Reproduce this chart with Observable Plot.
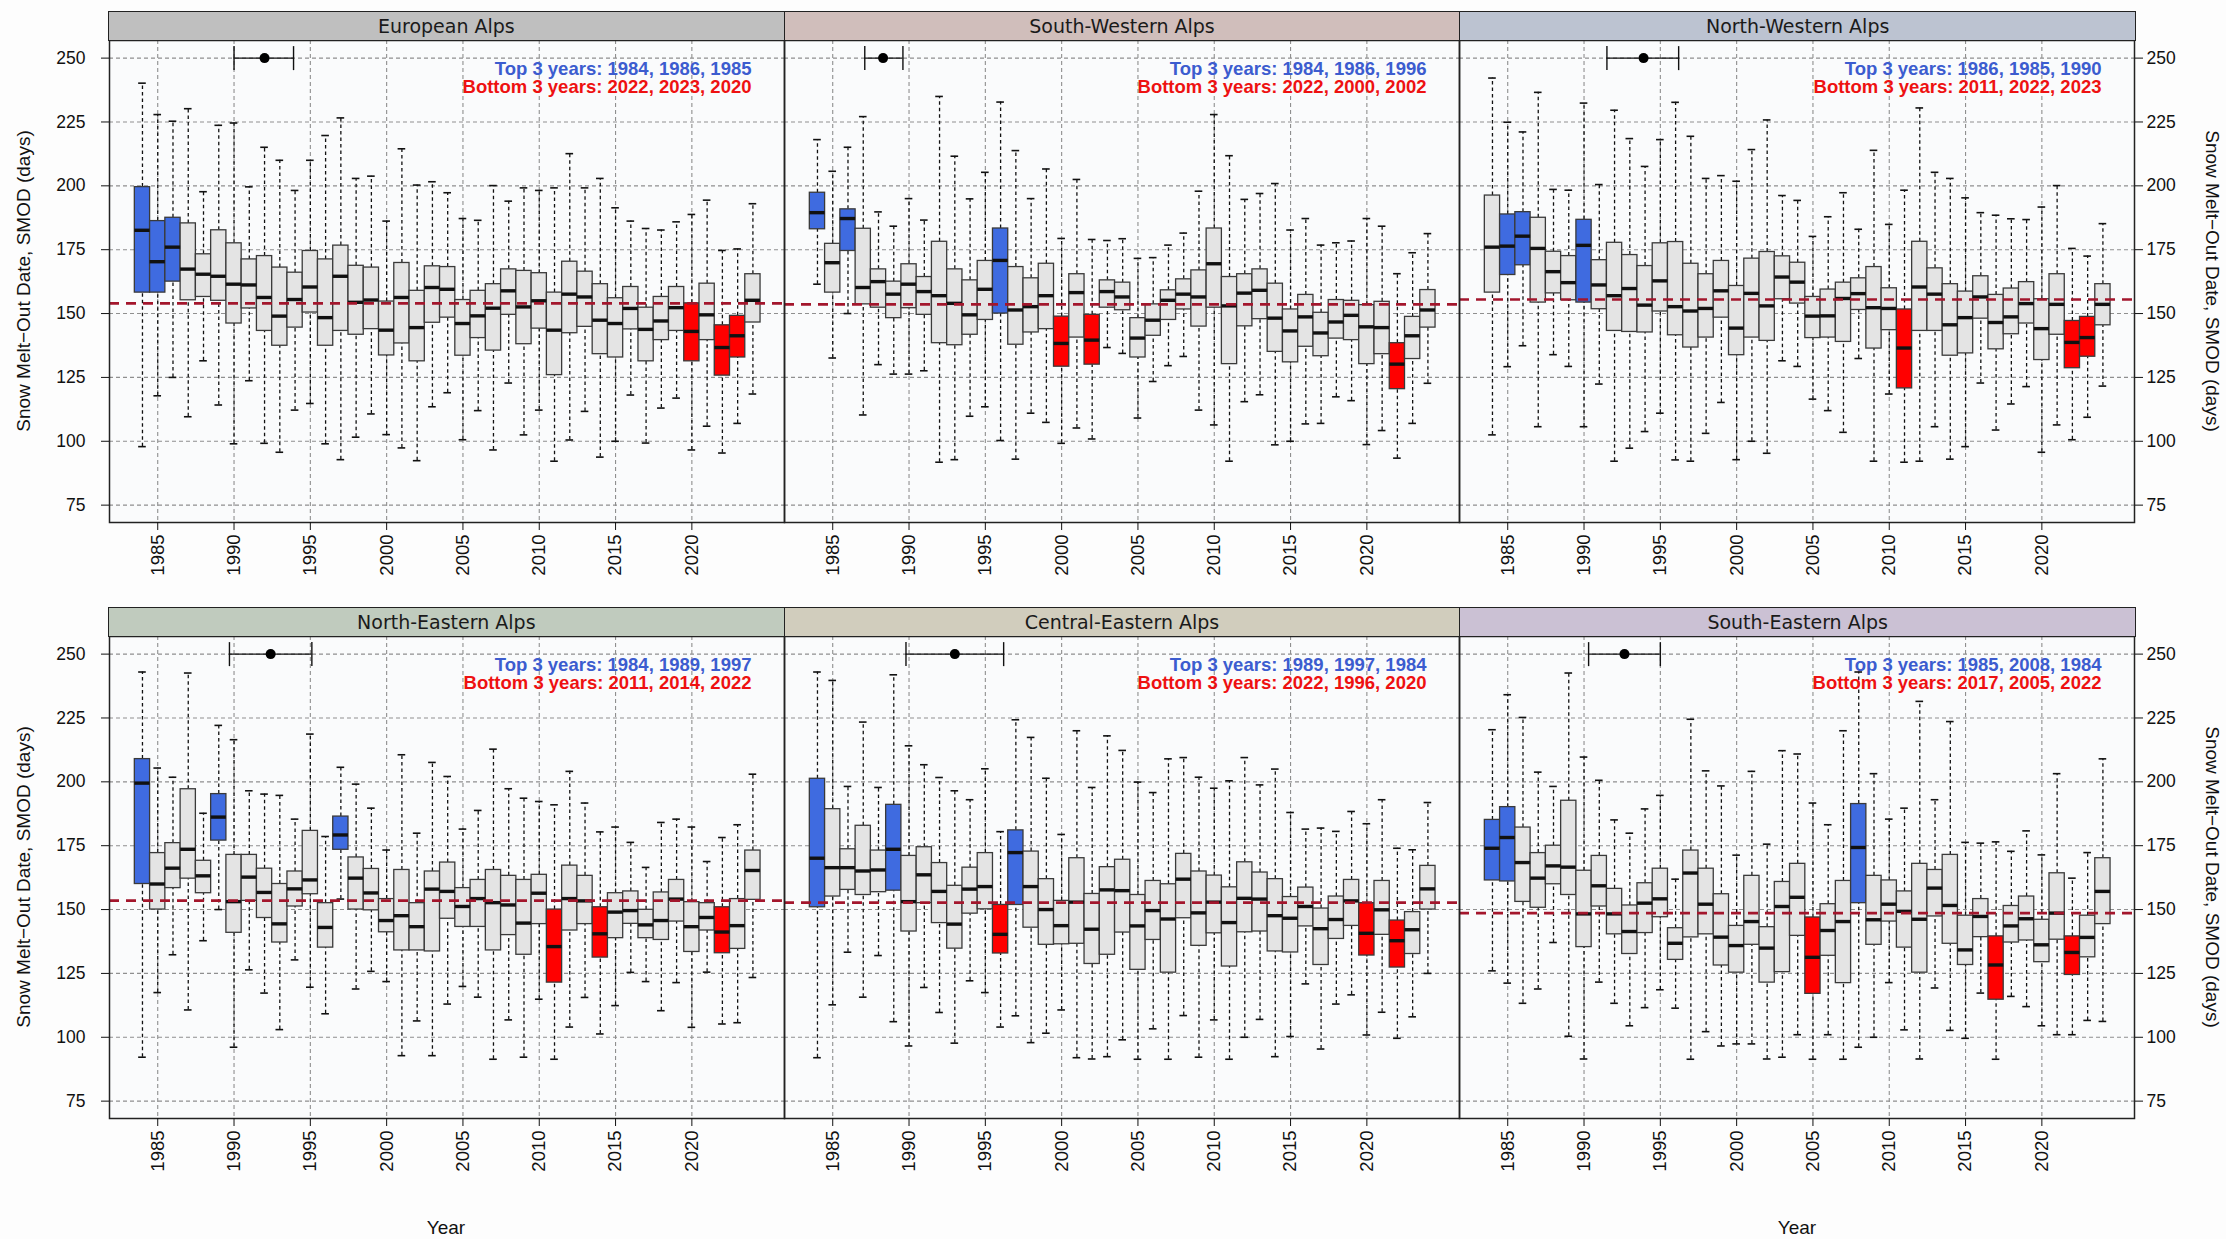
<!DOCTYPE html>
<html>
<head>
<meta charset="utf-8">
<script src="https://cdn.jsdelivr.net/npm/d3@7"></script>
<script src="https://cdn.jsdelivr.net/npm/@observablehq/plot@0.6"></script>
<style>
  body { margin: 0; background: #ffffff; }
  #wrap { position: relative; width: 2226px; height: 1239px; overflow: hidden; font-family: "Liberation Sans", Arial, sans-serif; background: #fdfdfd; }
  .chart { position: absolute; left: 0; }
  .strip { position: absolute; box-sizing: border-box; border: 1.5px solid #222; display: flex; align-items: center; justify-content: center; font-family: "DejaVu Sans", sans-serif; font-size: 19px; color: #1a1a1a; }
  .ylab { position: absolute; font-size: 19px; color: #111; writing-mode: vertical-rl; white-space: nowrap; }
  .xlab { position: absolute; font-size: 19px; color: #111; transform: translate(-50%, -50%); white-space: nowrap; }
</style>
</head>
<body>
<div id="wrap"></div>
<script>
// ---------------- DATA ----------------
const years = [1984,1985,1986,1987,1988,1989,1990,1991,1992,1993,1994,1995,1996,1997,1998,1999,2000,2001,2002,2003,2004,
               2005,2006,2007,2008,2009,2010,2011,2012,2013,2014,2015,2016,2017,2018,2019,2020,2021,2022,2023,2024];
const regions = ["European Alps","South-Western Alps","North-Western Alps","North-Eastern Alps","Central-Eastern Alps","South-Eastern Alps"];
const xTicks = [1985,1990,1995,2000,2005,2010,2015,2020];
const yTicks = [75,100,125,150,175,200,225,250];

// European Alps
const euMin = [97.9,117.8,125,109.6,131.5,114.2,99.0,123.7,99.2,95.7,112.2,114.8,99.0,92.8,101.6,110.7,102.6,97.4,92.4,113.5,119.0,100.6,112.0,96.6,122.8,102.5,112.2,92.2,100.5,111.7,93.8,100.0,118.1,99.3,113.0,116.9,96.6,105.9,95.4,107.0,118.5];
const euQ1  = [158.2,158.2,162.5,155.2,156.5,155,146.1,152.0,143.2,137.4,144.5,150.4,137.4,143.2,141.7,143.9,133.6,138.3,131.3,146.4,148.4,133.5,140.4,135.5,149.5,138,144.1,125.9,142.3,144.8,134.1,132.8,143.8,131.3,139.6,143.2,131.3,139.6,125.7,132.8,146.5];
const euMed = [182.6,170.3,176.0,167.4,165.4,164.6,161.5,161.2,156.3,149,155.5,160.4,148.4,164.6,154.4,155.3,143.5,156.3,144.5,160.2,159.5,146.1,149.1,152.1,158.9,152.6,155,143.5,157.6,156.5,147.4,146.1,152,143.8,147.1,152.3,143,149.5,136.7,141.3,155.2];
const euQ3  = [199.5,186.2,187.5,185.3,173.2,182.6,177.5,171.2,172.5,168,166,174.5,171.2,176.6,168.7,168,154.7,169.8,158.9,168.5,168.2,155.3,158.9,161.5,167.3,166.7,165.8,158.2,170.3,166.4,161.5,156,160.4,152.3,156.5,160.4,154,161.7,145.4,149.1,165.4];
const euMax = [240.2,227.9,225.3,230.2,197.7,223.7,224.6,199.6,215.1,210,198.2,210,219.7,226.6,202.9,203.8,186.2,214.5,200.3,201.6,197.3,187.2,186.5,200.1,194,199.2,198.2,199.2,212.6,199.2,202.9,191.4,186.2,183.3,182.7,185.9,188.8,194.4,174.7,175.3,193];

// South-Western Alps
const swMin = [161.5,132.6,150,110.3,130,126.3,126.3,127.6,91.8,92.8,109.8,113.5,100.3,93,111,107.4,99.2,105.2,100.9,136.7,134.4,109.1,123.4,129.6,133.2,112.2,106.4,92.2,115.5,118.2,98.6,100,106.8,107,117.4,115.9,98.7,104.2,93.4,107,122.7];
const swQ1  = [183,158.2,174.5,153.6,152.3,148.2,152.1,149.5,138.4,137.6,141.7,147.5,150,137.8,142.6,143.9,129.2,140.6,130,152.3,151.3,132.8,141.3,147.5,151.6,144.9,152.3,130.2,145,147.8,135,130.9,137,133.3,140.2,139.6,130.2,134.1,120.4,132.2,144.5];
const swMed = [189.5,169.9,187.2,160.2,162.5,157.6,161.5,158.6,157,154,149.5,159.5,170.8,151.4,152.7,157,138.3,158.2,139.6,158.6,156.5,140.4,147.4,155.2,157.6,156.5,169.5,153,158,159.1,148.2,143.2,148.7,142.4,146.7,149.3,144.8,144.5,130.2,141.3,151.4];
const swQ3  = [197.3,177.3,190.8,183.2,167.3,162.5,169.3,164.3,178.1,167.3,163,170.6,183.3,168.2,163.8,169.5,148.8,165.4,149.5,163,162.1,148.2,153.6,159.1,163.4,166.9,183.3,164.3,165.4,167.3,161.7,151.6,157.3,150.3,155.3,155,153.3,154.6,138.4,148.7,159.2];
const swMax = [218.1,205.7,215.1,227.1,189.8,184.2,195,186.6,235,211.6,194.9,205.3,232.8,213.8,195,206.6,179.4,202.5,179,178.6,179.3,171.6,171.9,176.8,181.5,197.9,227.9,211.8,194.7,197,200.9,182.7,187.2,176.8,177.7,178.4,187.2,184.2,165.6,173.8,181.3];

// North-Western Alps
const nwMin = [102.5,129.2,137.4,105.7,133.9,129.3,105.7,122.4,92.2,97.3,103.8,111,92.7,92.2,103.1,115.2,92.8,100,95.3,131.5,129.3,116.5,112,103.5,132.4,92.2,118.5,91.8,92.2,105.7,93,97.9,122.8,104.4,114.6,121.4,95.7,106.4,100.6,109.4,121.6];
const nwQ1  = [158.2,165.1,168.9,154.3,157.9,155.2,154.3,151.7,143.2,142.8,142.6,150.8,141.5,136.7,140.6,148.4,133.7,140.6,139.3,155.6,153.9,140.4,140.6,138.9,151.4,136.3,143.5,120.7,143.2,143.2,133.5,134.4,148,136,141.9,146.1,131.8,141.7,128.6,133.1,145.4];
const nwMed = [176,176.4,180.3,175.5,166.4,162.1,176.7,161.2,157,159.8,153.3,162.8,152.7,151,152,158.9,144.3,157.9,153,164.3,162.3,149,149.1,155.9,157.8,152.3,152,136.5,160.4,157.6,145.6,148.4,156.5,146.5,148.7,153.9,144.1,153.6,138.7,140.6,153.6];
const nwQ3  = [196.2,188.8,189.7,187.5,174.2,172.5,186.7,170.9,177.7,172.9,168.6,177.5,178,169.5,165.4,170.6,160.8,171.5,174.1,172.4,169.9,156.5,159.4,162.1,163.8,168.2,159.9,151.6,178.1,167.7,161.5,158.6,164.6,157.3,159.8,162.3,155.6,165.4,147.1,148.7,161.5];
const nwMax = [242.2,224.9,221.1,236.6,198.6,198.3,232.4,200.5,229.6,218.5,207.6,218.1,232.7,219.4,202.9,204,201.8,214.2,225.8,196.2,194.3,180.2,187.9,197.3,183,213.9,184.9,198.3,230.5,205.3,202.9,195.3,189.5,188.5,187.1,186.8,191.7,200.1,175.5,172.5,185.2];

// North-Eastern Alps
const neMin = [92.2,117.5,132.3,110.7,137.8,150,96.1,126.4,117.3,103,130.3,119.6,109.2,154.1,118.9,125.8,121.8,92.8,106.4,92.8,113,119.9,115.7,91.4,106.8,92.2,114.9,91.4,104,115.6,101.3,112.4,125.4,121.8,110.4,121.4,103.9,125.5,105.2,105.7,123.4];
const neQ1  = [160,150,158.4,162.1,156.4,177,140.9,153.4,146.7,137.1,151.2,156,135.1,173.4,150,149.7,141.1,134,134,133.6,146.4,143.2,143.2,134,140,132.3,144.3,121.4,141.8,144.3,131.2,138.8,144.4,138.8,138.1,145.3,133.4,141.8,132.9,134.6,153.8];
const neMed = [199.5,160,166.2,173.6,163.2,186.2,153.1,162.7,156.7,144.4,158.1,161.6,143,179.2,162.3,156.5,145.7,147.6,143.3,158,157.1,151.2,154.3,152.7,151.8,144.7,156.4,135.5,154.3,153.4,140.5,149,149.6,144,145.7,154.1,143.3,146.9,141.2,143.7,165.3];
const neQ3  = [208.9,172.1,176,197.1,169.1,195.2,171.4,171.4,166,160,164.9,180.8,152.5,186.4,170.4,165.9,154.1,165.5,152.5,164.9,168.4,158.4,161.6,165.5,163.2,161.6,163.6,150,167.2,163.2,150.9,156.4,157.1,149.9,156.7,161.6,152.9,152.5,150.9,154.1,173.1];
const neMax = [243,205.4,201.8,242.6,187.7,222.1,216.5,196.5,195.2,194.7,185.4,218.7,178.6,205.7,199.1,189.7,173.3,210.6,179.9,207.6,202.1,181.5,188.8,212.8,197.3,193.6,192.3,191,204.1,191.7,180.4,182.3,176.3,166.5,184.1,185.4,182.3,168.8,178.2,183.2,203];

// Central-Eastern Alps
const ceMin = [92,112.7,133.3,115.7,132,106.1,96.6,119.5,109.7,97.7,122.1,117.5,104,108.4,97.9,101.6,110.7,92,91.5,92.4,99,91.4,103.3,91.4,108.5,92.2,106.8,91.4,100,107,92.4,100.3,120.9,95.4,113,116.6,100.9,109.8,99.6,108,125];
const ceQ1  = [150.9,155.1,157.7,155.7,156.8,157.4,141.4,152.5,144.7,134.7,148.4,150.1,132.8,151.8,142.9,136.2,136.4,136.6,128.7,132.3,141,126.4,138.1,125.3,146.6,135.8,140.7,127.7,141.1,141.4,133.6,133.2,143.4,128.3,138.5,143.6,132,140.1,127.3,132.6,150];
const ceMed = [170.1,166.4,166.4,165.1,165.5,173.6,153.1,163.6,157.1,144.3,158,159,140.3,172.3,159,150,143.7,152.9,142.3,157.7,157.4,143.6,149.6,146.3,161.9,148.7,152.9,144.9,154.4,154.1,147.6,146.6,151.2,142.5,146.1,153.4,140.7,149.9,137.8,142.1,158.1];
const ceQ3  = [201.2,189.3,173.6,182.8,173.1,191,171,174.4,168.2,159.3,166.4,172.1,151.8,181,172.7,161.9,153.4,170.1,156.1,166.6,169.5,155.7,161.2,159.9,171.8,164.9,163.3,158.7,168.5,164.5,161.9,154.9,158.6,150.4,155.1,161.6,152.5,161.2,145.7,149,167.1];
const ceMax = [243,239.7,198.2,223.4,197.8,241.9,214.1,206.7,201.7,196.5,193,205.1,180.5,224.3,217.4,201.4,179.4,220,197.8,218,212.3,199.9,195.8,209,209.5,201.8,197.5,200.4,209.5,198.8,205,188,181.5,181.9,180.6,188.4,183.6,193,174,173.4,191.9];

// South-Eastern Alps
const seMin = [126,121.2,113.3,118.9,137.1,100.4,91.5,121.6,113.3,104.5,111.6,118.6,111.4,91.4,102.2,96.6,97.4,97.4,91.5,92.2,101,91.4,101,91.4,96.1,100,121.4,102.9,91.5,119.3,102.7,99.6,117.3,91.4,116,112,104.5,101,101,106.6,106.2];
const seQ1  = [161.4,161,153,150.7,159.9,155.7,135.3,151.2,140.3,132.6,140.8,147,130.3,139.1,140.3,128.1,125.3,136.2,121.4,125.5,139.7,117,131.9,121.2,152.5,136.2,145.3,135.1,125.3,147.3,136.6,128.3,139.2,114.7,137.1,137.9,129.4,138.2,124.4,131.3,144.3];
const seMed = [174,178.2,168.4,162.3,167.1,166.6,148.3,159.3,148.3,141.4,152.5,154.2,136.8,164.3,152.1,139.2,135.9,145.3,134.9,151.2,154.8,131.3,141.8,145.3,174.3,146,152.1,149.3,146.2,158.4,151.6,134.2,147.3,128.3,143.6,146.4,136.2,148.6,133.2,139.1,157.1];
const seQ3  = [185.1,190.1,182.1,172.1,175,192.6,165.2,171,158.1,151.6,160.3,166,142.7,173.1,166,156,143.6,163.2,143.1,160.8,167.9,146.9,152.1,161.2,191.3,163.2,161.4,157.1,167.9,165.5,171.4,147.6,154.1,139.5,151.4,155.1,146,164.2,139.5,147.6,170.1];
const seMax = [220.4,234.1,225.2,203.8,198.2,242.6,209.7,200.6,185.1,179.9,189.4,194.7,161.9,224.5,204.3,198.4,171.3,204.1,175.6,212.2,210.9,191.7,183.2,220,243,203.2,185.4,189.7,231.5,193,223.6,176.3,176,176.5,172.8,180.8,171.4,203.2,162.3,172.3,209];

const top3    = [[1984,1986,1985],[1984,1986,1996],[1986,1985,1990],[1984,1989,1997],[1989,1997,1984],[1985,2008,1984]];
const bottom3 = [[2022,2023,2020],[2022,2000,2002],[2011,2022,2023],[2011,2014,2022],[2022,1996,2020],[2017,2005,2022]];
const refMedian = [154.0,153.6,155.5,153.5,152.7,148.6];
const ciLow  = [1990.0,1987.1,1991.5,1989.7,1989.8,1990.3];
const ciEst  = [1992.0,1988.3,1993.9,1992.4,1993.0,1992.65];
const ciHigh = [1993.9,1989.6,1996.2,1995.1,1996.2,1995.0];
const ciLevel = 250;

// ---------------- STYLE ----------------
const stripColors = ["#bfbfbf","#d0bebb","#bcc3d1","#c0cbbe","#d1cdbd","#cbc1d4"];
const boxColors = {top: "#3f6be0", bottom: "#ff0000", mid: "#e4e4e4"};
const W = 2226, ML = 108, MR = 91, MT = 40, PH = 482, MB = 80;
const FW = (W - ML - MR) / 3;

const statSets = [
  [euMin, euQ1, euMed, euQ3, euMax],
  [swMin, swQ1, swMed, swQ3, swMax],
  [nwMin, nwQ1, nwMed, nwQ3, nwMax],
  [neMin, neQ1, neMed, neQ3, neMax],
  [ceMin, ceQ1, ceMed, ceQ3, ceMax],
  [seMin, seQ1, seMed, seQ3, seMax]
];
statSets.forEach((s, k) => s.forEach((a, j) => { if (a.length !== years.length) throw new Error(`length mismatch region ${k} stat ${j}: ${a.length}`); }));

const vbar = { draw(ctx, size) { const r = Math.sqrt(size / Math.PI); ctx.moveTo(0, -r); ctx.lineTo(0, r); } };

function rowChart(idx) {
  const recs = [];
  const meta = [];
  idx.forEach(k => {
    const [mn, q1, md, q3, mx] = statSets[k];
    years.forEach((y, i) => {
      const cls = top3[k].includes(y) ? "top" : bottom3[k].includes(y) ? "bottom" : "mid";
      recs.push({region: regions[k], year: y, min: mn[i], q1: q1[i], med: md[i], q3: q3[i], max: mx[i], cls});
    });
    meta.push({region: regions[k], ref: refMedian[k], lo: ciLow[k], est: ciEst[k], hi: ciHigh[k],
               top: "Top 3 years: " + top3[k].join(", "), bottom: "Bottom 3 years: " + bottom3[k].join(", ")});
  });
  const fx = "region";
  const grid = {stroke: "#8f8f8f", strokeOpacity: 1, strokeWidth: 1.1, strokeDasharray: "4,3"};
  return Plot.plot({
    width: W, height: MT + PH + MB,
    marginTop: MT, marginBottom: MB, marginLeft: ML, marginRight: MR,
    style: {background: "transparent", fontFamily: "Liberation Sans, Arial, sans-serif", fontSize: "17px", color: "#111", overflow: "visible"},
    fx: {domain: idx.map(k => regions[k]), padding: 0, axis: null, label: null},
    x: {domain: [1981.84, 2026.07]},
    y: {domain: [68.2, 256.9]},
    marks: [
      Plot.frame({fill: "#fafbfc", stroke: "none"}),
      Plot.gridX({ticks: xTicks, ...grid}),
      Plot.gridY({ticks: yTicks, ...grid}),
      Plot.ruleX(recs, {fx, x: "year", y1: "q3", y2: "max", stroke: "#111", strokeWidth: 1.3, strokeDasharray: "3.5,3"}),
      Plot.ruleX(recs, {fx, x: "year", y1: "min", y2: "q1", stroke: "#111", strokeWidth: 1.3, strokeDasharray: "3.5,3"}),
      Plot.ruleY(recs, {fx, y: "max", x1: d => d.year - 0.25, x2: d => d.year + 0.25, stroke: "#111", strokeWidth: 1.6}),
      Plot.ruleY(recs, {fx, y: "min", x1: d => d.year - 0.25, x2: d => d.year + 0.25, stroke: "#111", strokeWidth: 1.6}),
      Plot.rect(recs, {fx, x1: d => d.year - 0.5, x2: d => d.year + 0.5, y1: "q1", y2: "q3",
                       fill: d => boxColors[d.cls], stroke: "#3a3a3a", strokeWidth: 1.3}),
      Plot.ruleY(recs, {fx, y: "med", x1: d => d.year - 0.5, x2: d => d.year + 0.5, stroke: "#111", strokeWidth: 3.4}),
      Plot.ruleY(meta, {fx, y: "ref", stroke: "#a3162c", strokeWidth: 2.6, strokeDasharray: "10,7"}),
      Plot.ruleY(meta, {fx, y: () => ciLevel, x1: "lo", x2: "hi", stroke: "#111", strokeWidth: 1.4}),
      Plot.dot(meta, {fx, x: "lo", y: () => ciLevel, symbol: vbar, r: 12, stroke: "#111", strokeWidth: 1.4, fill: "none"}),
      Plot.dot(meta, {fx, x: "hi", y: () => ciLevel, symbol: vbar, r: 12, stroke: "#111", strokeWidth: 1.4, fill: "none"}),
      Plot.dot(meta, {fx, x: "est", y: () => ciLevel, r: 5, fill: "#000", stroke: "none"}),
      Plot.text(meta, {fx, text: "top", frameAnchor: "top-right", dx: -33, dy: 21, fill: "#3c5ccf", fontWeight: "bold", fontSize: 18.5, fontFamily: "Liberation Sans, Arial, sans-serif"}),
      Plot.text(meta, {fx, text: "bottom", frameAnchor: "top-right", dx: -33, dy: 39, fill: "#ee1111", fontWeight: "bold", fontSize: 18.5, fontFamily: "Liberation Sans, Arial, sans-serif"}),
      Plot.frame({stroke: "#222", strokeWidth: 1.5}),
      Plot.axisY({anchor: "left", ticks: yTicks, tickSize: 8, tickPadding: 16, label: null, fontSize: 17.5}),
      Plot.axisY({anchor: "right", ticks: yTicks, tickSize: 8, tickPadding: 4, label: null, fontSize: 17.5}),
      Plot.axisX({ticks: xTicks, tickRotate: -90, tickFormat: d3.format("d"), tickSize: 8, tickPadding: 4, label: null, fontSize: 18.5})
    ]
  });
}

const wrap = document.getElementById("wrap");
const rows = [{idx: [0,1,2], svgTop: 0, stripTop: 11, plotTop: 40}, {idx: [3,4,5], svgTop: 596, stripTop: 607, plotTop: 636}];
rows.forEach(r => {
  const c = rowChart(r.idx);
  c.classList.add("chart");
  c.style.top = r.svgTop + "px";
  wrap.appendChild(c);
  r.idx.forEach((k, j) => {
    const s = document.createElement("div");
    s.className = "strip";
    s.textContent = regions[k];
    s.style.left = (ML + j * FW) + "px";
    s.style.width = (FW + 1) + "px";
    s.style.top = r.stripTop + "px";
    s.style.height = (r.plotTop - r.stripTop + 1) + "px";
    s.style.background = stripColors[k];
    wrap.appendChild(s);
  });
  const cy = r.plotTop + PH / 2;
  const yl = document.createElement("div");
  yl.className = "ylab";
  yl.textContent = "Snow Melt\u2212Out Date, SMOD (days)";
  yl.style.left = "24px"; yl.style.top = cy + "px";
  yl.style.transform = "translate(-50%, -50%) rotate(180deg)";
  wrap.appendChild(yl);
  const yr = document.createElement("div");
  yr.className = "ylab";
  yr.textContent = "Snow Melt\u2212Out Date, SMOD (days)";
  yr.style.left = "2212px"; yr.style.top = cy + "px";
  yr.style.transform = "translate(-50%, -50%)";
  wrap.appendChild(yr);
});
[446, 1797].forEach(x => {
  const t = document.createElement("div");
  t.className = "xlab";
  t.textContent = "Year";
  t.style.left = x + "px"; t.style.top = "1228px";
  wrap.appendChild(t);
});
</script>
</body>
</html>
